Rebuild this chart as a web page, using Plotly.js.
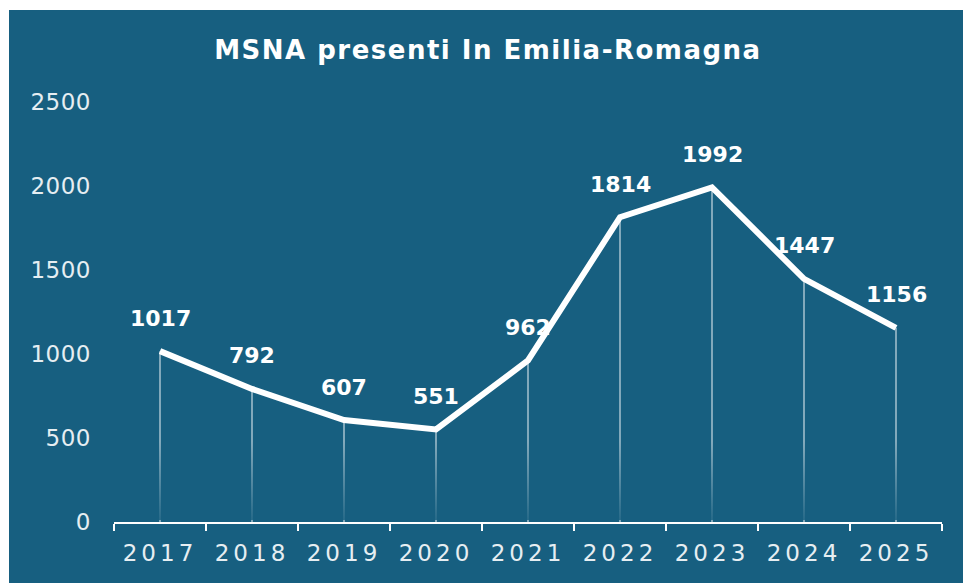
<!DOCTYPE html>
<html>
<head>
<meta charset="utf-8">
<script src="https://cdn.plot.ly/plotly-3.0.1.min.js"></script>
<style>
  html, body { margin: 0; padding: 0; background: #ffffff; }
  #chart { position: absolute; left: 9px; top: 10px; width: 954px; height: 573px; }
  .xtick text { letter-spacing: 4px; }
  .ytick text { letter-spacing: 0.5px; }
  .gtitle { letter-spacing: 1.5px; }
</style>
</head>
<body>
<div id="chart"></div>
<script>
const years = ["2017", "2018", "2019", "2020", "2021", "2022", "2023", "2024", "2025"];
const presenti = [1017, 792, 607, 551, 962, 1814, 1992, 1447, 1156];
const yTicks = [0, 500, 1000, 1500, 2000, 2500];
const chartTitle = "MSNA presenti In Emilia-Romagna";

const bg = "#175f80";

const dropLines = {
  x: years,
  y: presenti,
  type: "scatter",
  mode: "markers",
  marker: { size: 1, color: "rgba(0,0,0,0)" },
  error_y: {
    type: "data",
    symmetric: false,
    array: presenti.map(() => 0),
    arrayminus: presenti,
    width: 0,
    thickness: 1.5,
    color: "rgba(255,255,255,0.62)"
  },
  hoverinfo: "skip",
  showlegend: false
};

const mainLine = {
  x: years,
  y: presenti,
  type: "scatter",
  mode: "lines",
  line: { color: "#ffffff", width: 6 },
  cliponaxis: false,
  showlegend: false
};

// category axes: annotation x uses the category serial number
const annotations = years.map((yr, i) => ({
  x: i,
  y: presenti[i],
  xref: "x",
  yref: "y",
  text: "<b>" + presenti[i] + "</b>",
  showarrow: false,
  yanchor: "middle",
  xanchor: "center",
  yshift: 33,
  font: { family: "DejaVu Sans", size: 22, color: "#ffffff" }
}));

// decorative fade of the drop lines towards the axis
const fadeSvg =
  '<svg xmlns="http://www.w3.org/2000/svg" width="10" height="100" preserveAspectRatio="none">' +
  '<defs><linearGradient id="g" x1="0" y1="0" x2="0" y2="1">' +
  '<stop offset="0" stop-color="' + bg + '" stop-opacity="0"/>' +
  '<stop offset="1" stop-color="' + bg + '" stop-opacity="0.85"/>' +
  '</linearGradient></defs><rect width="10" height="100" fill="url(#g)"/></svg>';

const layout = {
  width: 954,
  height: 573,
  paper_bgcolor: bg,
  plot_bgcolor: bg,
  margin: { l: 105, r: 21, t: 92, b: 61 },
  title: {
    text: "<b>" + chartTitle + "</b>",
    x: 0.502,
    xref: "container",
    y: 0.93,
    yref: "container",
    yanchor: "middle",
    font: { family: "DejaVu Sans", size: 26, color: "#ffffff" }
  },
  xaxis: {
    type: "category",
    range: [-0.5, years.length - 0.5],
    tickson: "boundaries",
    ticks: "outside",
    ticklen: 7,
    tickwidth: 2,
    tickcolor: "#ffffff",
    showline: true,
    linecolor: "#ffffff",
    linewidth: 2,
    showgrid: false,
    zeroline: false,
    ticklabelstandoff: 9,
    tickfont: { family: "DejaVu Sans", size: 23, color: "#e6eef2" },
    fixedrange: true
  },
  yaxis: {
    range: [0, 2500],
    tickvals: yTicks,
    ticktext: yTicks.map(String),
    showgrid: false,
    zeroline: false,
    showline: false,
    ticks: "",
    ticklabelstandoff: 22,
    tickfont: { family: "DejaVu Sans", size: 23, color: "#e6eef2" },
    fixedrange: true
  },
  images: [{
    source: "data:image/svg+xml;charset=utf-8," + encodeURIComponent(fadeSvg),
    xref: "paper", yref: "y",
    x: 0, y: 480,
    sizex: 1, sizey: 468,
    xanchor: "left", yanchor: "top",
    sizing: "stretch",
    layer: "above"
  }],
  annotations: annotations,
  showlegend: false
};

Plotly.newPlot("chart", [dropLines, mainLine], layout, { displayModeBar: false, staticPlot: true });
</script>
</body>
</html>
